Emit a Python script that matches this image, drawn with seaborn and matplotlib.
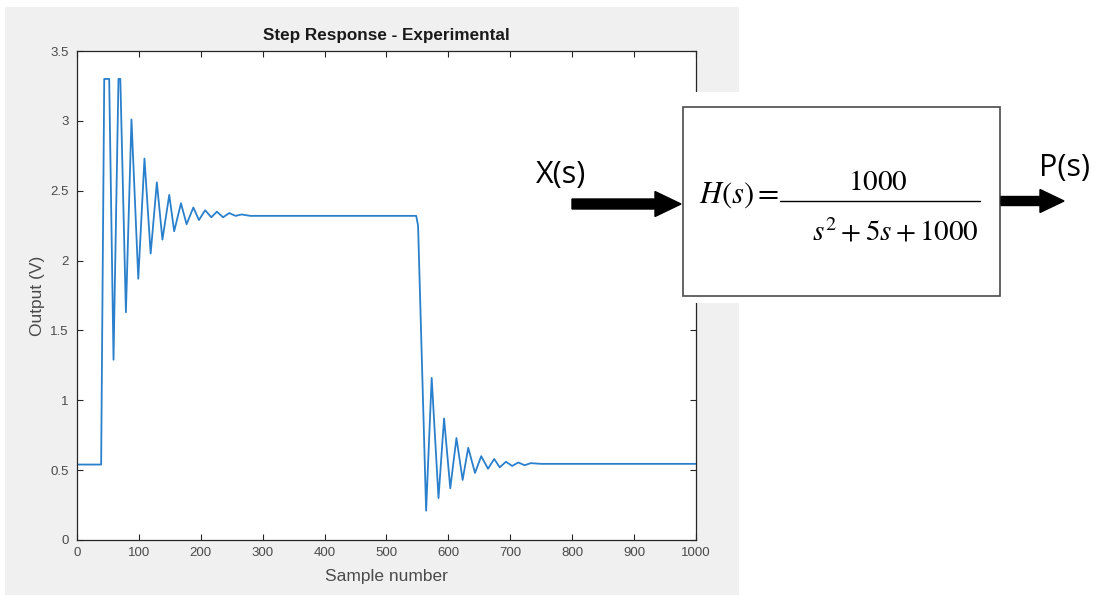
import numpy as np
import pandas as pd
import matplotlib
matplotlib.use("Agg")
import matplotlib.pyplot as plt
import seaborn as sns
from matplotlib.patches import Rectangle, FancyArrow

# ---------------- data ----------------
# rising step and ringing (sample number, output volts)
rise_samples = [0, 39, 44, 52, 59, 67, 70, 79, 88, 99, 109, 119, 129, 138,
                149, 157, 168, 177, 188, 197, 207, 217, 226, 236, 246, 256,
                266, 280]
rise_volts = [0.54, 0.54, 3.30, 3.30, 1.29, 3.30, 3.30, 1.63, 3.01, 1.87,
              2.73, 2.05, 2.56, 2.15, 2.47, 2.21, 2.41, 2.26, 2.38, 2.29,
              2.36, 2.31, 2.35, 2.31, 2.34, 2.32, 2.33, 2.32]
# plateau
plateau_samples = [320, 400, 480, 548]
plateau_volts = [2.32, 2.32, 2.32, 2.32]
# falling step and ringing
fall_samples = [551, 564, 573, 584, 593, 603, 613, 623, 632, 643, 653, 664,
                674, 683, 693, 703, 713, 723, 733, 750]
fall_volts = [2.25, 0.21, 1.16, 0.30, 0.87, 0.37, 0.73, 0.43, 0.66, 0.48,
              0.60, 0.51, 0.58, 0.52, 0.56, 0.53, 0.555, 0.535, 0.55, 0.545]
# final level
final_samples = [850, 1000]
final_volts = [0.545, 0.545]

xtick_values = [0, 100, 200, 300, 400, 500, 600, 700, 800, 900, 1000]
xtick_labels = ["0", "100", "200", "300", "400", "500", "600", "700", "800",
                "900", "1000"]
ytick_values = [0, 0.5, 1, 1.5, 2, 2.5, 3, 3.5]
ytick_labels = ["0", "0.5", "1", "1.5", "2", "2.5", "3", "3.5"]

df = pd.DataFrame({
    "sample": rise_samples + plateau_samples + fall_samples + final_samples,
    "volts": rise_volts + plateau_volts + fall_volts + final_volts,
})

# ---------------- figure ----------------
sns.set_style("ticks")
plt.rcParams["font.family"] = ["Liberation Sans", "DejaVu Sans"]

W, H = 1099, 596
fig = plt.figure(figsize=(W / 100, H / 100), dpi=100)
fig.patch.set_facecolor("white")

# MATLAB-like grey figure panel
fig.add_artist(Rectangle((5 / W, 1 - 595 / H), 734 / W, 588 / H,
                         transform=fig.transFigure, facecolor="#f0f0f0",
                         edgecolor="none", zorder=-5))

ax = fig.add_axes([77 / W, 1 - 540 / H, 619 / W, 489 / H])
ax.set_facecolor("white")
sns.lineplot(data=df, x="sample", y="volts", ax=ax, color="#2a80cc",
             linewidth=1.3, sort=False, estimator=None,
             solid_joinstyle="round")
ax.set_xlim(0, 1000)
ax.set_ylim(0, 3.5)
ax.set_xticks(xtick_values)
ax.set_xticklabels(xtick_labels)
ax.set_yticks(ytick_values)
ax.set_yticklabels(ytick_labels)
ax.tick_params(direction="in", top=True, right=True, length=4, width=0.8,
               colors="#262626", labelcolor="#4a4a4a", labelsize=9.5)
ax.tick_params(axis="y", pad=6)
ax.tick_params(axis="x", pad=5)
for sp in ax.spines.values():
    sp.set_visible(True)
    sp.set_color("#262626")
    sp.set_linewidth(0.9)
ax.set_xlabel("Sample number", fontsize=12.5, color="#4a4a4a", labelpad=7)
ax.set_ylabel("Output (V)", fontsize=12.5, color="#4a4a4a", labelpad=4)
ax.set_title("Step Response - Experimental", fontsize=12.3, fontweight="bold",
             color="#1a1a1a", pad=8)

# ---------------- block diagram overlay ----------------
ov = fig.add_axes([0, 0, 1, 1], zorder=5)
ov.set_xlim(0, W)
ov.set_ylim(H, 0)
ov.axis("off")
ov.patch.set_alpha(0)

ov.add_patch(Rectangle((530, 92), 569, 211, facecolor="white",
                       edgecolor="none"))
ov.add_patch(Rectangle((683, 107), 317, 189, facecolor="white",
                       edgecolor="#4a4a4a", linewidth=1.2))

ov.add_patch(FancyArrow(572, 204, 109, 0, width=10, head_width=25,
                        head_length=26, length_includes_head=True,
                        color="black"))
ov.add_patch(FancyArrow(1001, 201, 63, 0, width=9, head_width=23,
                        head_length=24, length_includes_head=True,
                        color="black"))

ov.text(561, 175, "X(s)", ha="center", va="center", fontsize=22,
        family="Open Sans", color="black")
ov.text(1065, 168, "P(s)", ha="center", va="center", fontsize=22,
        family="Open Sans", color="black")

ov.text(699, 195, r"$H(s)=$", ha="left", va="center", fontsize=22,
        math_fontfamily="stix", color="black")
ov.text(878, 182, r"$1000$", ha="center", va="center", fontsize=21,
        math_fontfamily="stix", color="black")
ov.plot([780, 980], [201, 201], color="black", linewidth=1.0)
ov.text(895, 232, r"$s^2+5s+1000$", ha="center", va="center", fontsize=21,
        math_fontfamily="stix", color="black")

fig.savefig("out.png", dpi=100, facecolor="white")
